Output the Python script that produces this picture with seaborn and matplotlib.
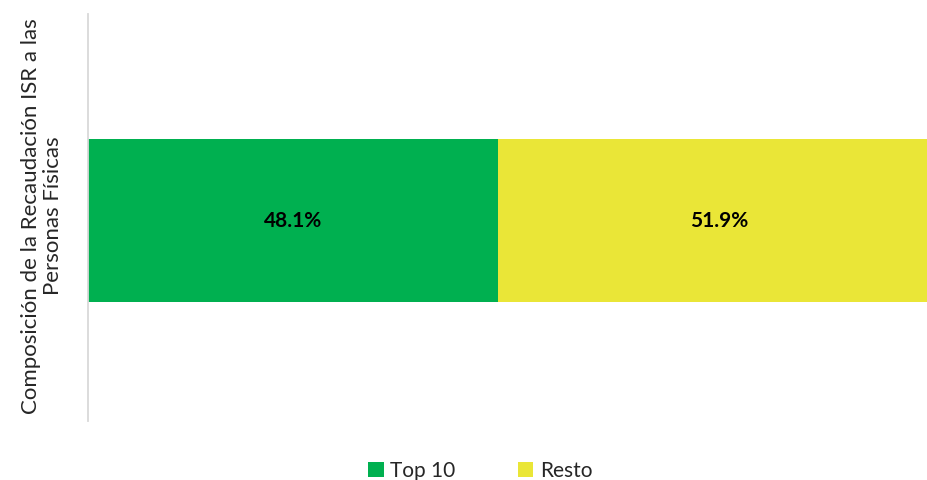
import matplotlib
matplotlib.use("Agg")
import matplotlib.pyplot as plt
import seaborn as sns
from matplotlib.patches import Patch

# data
category = ["Composición"]
series_names = ["Top 10", "Resto"]
top10 = [48.1]
resto = [51.9]
colors = ["#00B050", "#EAE637"]

sns.set_style("white")
plt.rcParams['font.family'] = ['Lato', 'DejaVu Sans']

fig = plt.figure(figsize=(9.27, 4.81), dpi=100)
# plot area runs a little past the right edge of the figure, as in the original
ax = fig.add_axes([88 / 927, 1 - 422 / 481, 852 / 927, 407 / 481])

total = [a + b for a, b in zip(top10, resto)]
# stacked: draw the total in yellow, then the first segment on top in green
sns.barplot(x=total, y=category, color=colors[1], width=0.4, ax=ax, saturation=1,
            orient="h", linewidth=0)
sns.barplot(x=top10, y=category, color=colors[0], width=0.4, ax=ax, saturation=1,
            orient="h", linewidth=0)

ax.set_xlim(0, 100)
ax.set_ylim(0.493, -0.507)
ax.set_xticks([])
ax.set_yticks([])
ax.set_xlabel("")
ax.set_ylabel("")
for side in ["top", "right", "bottom"]:
    ax.spines[side].set_visible(False)
ax.spines["left"].set_color("#D9D9D9")
ax.spines["left"].set_linewidth(1.3)

# value labels
ax.text(top10[0] / 2, 0, f"{top10[0]:.1f}%", ha="center", va="center",
        fontsize=15, fontweight="bold", color="black")
ax.text(top10[0] + resto[0] / 2, 0, f"{resto[0]:.1f}%", ha="center", va="center",
        fontsize=15, fontweight="bold", color="black")

fig.text(42 / 927, 1 - 216 / 481, "Composición de la Recaudación ISR a las\nPersonas Físicas",
         rotation=90, ha="center", va="center", fontsize=16, linespacing=1.15)

handles = [Patch(facecolor=c, edgecolor="none") for c in colors]
fig.legend(handles, series_names, loc="lower center", bbox_to_anchor=(0.518, -0.04),
           ncol=2, frameon=False, fontsize=15, handlelength=0.75, handleheight=0.75,
           handletextpad=0.3, columnspacing=3.0)

fig.savefig("out.png", dpi=100)
